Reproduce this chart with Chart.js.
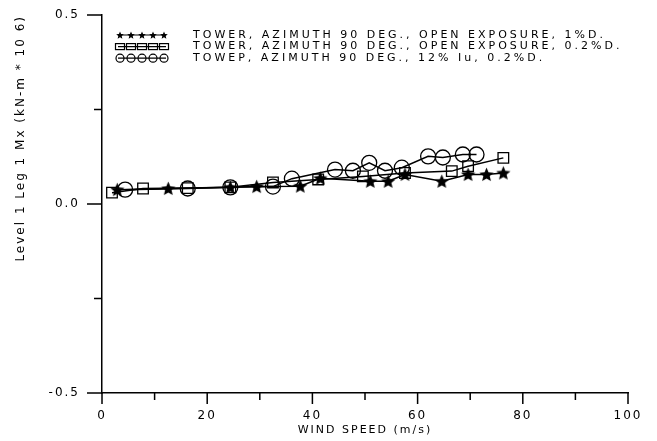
<!DOCTYPE html>
<html>
<head>
<meta charset="utf-8">
<script src="https://cdn.jsdelivr.net/npm/chart.js@4"></script>
<style>
  html, body { margin: 0; padding: 0; background: #fff; }
  canvas { display: block; }
</style>
</head>
<body>
<canvas id="myChart" width="657" height="441"></canvas>
<script>
// Values: wind speed (m/s) vs Mx
let seriesLabels = [
  "TOWER, AZIMUTH 90 DEG., OPEN EXPOSURE, 1%D.",
  "TOWER, AZIMUTH 90 DEG., OPEN EXPOSURE, 0.2%D.",
  "TOWEP, AZIMUTH 90 DEG., 12% Iu, 0.2%D."
];
let starX = [2.9, 12.6, 24.4, 29.4, 37.7, 41.5, 51.0, 54.4, 57.6, 64.6, 69.6, 73.1, 76.3];
let starY = [0.038, 0.041, 0.044, 0.046, 0.047, 0.068, 0.060, 0.060, 0.078, 0.060, 0.078, 0.078, 0.082];
let squareX = [1.9, 7.8, 16.3, 24.4, 32.5, 41.1, 49.6, 57.6, 66.5, 69.6, 76.3];
let squareY = [0.030, 0.041, 0.042, 0.044, 0.057, 0.065, 0.073, 0.082, 0.087, 0.100, 0.122];
let circleX = [4.4, 16.3, 24.4, 32.5, 36.1, 44.3, 47.7, 50.8, 53.8, 57.0, 62.0, 64.8, 68.6, 71.2];
let circleY = [0.038, 0.041, 0.044, 0.046, 0.067, 0.091, 0.088, 0.109, 0.088, 0.096, 0.126, 0.123, 0.131, 0.131];
let xTickLabels = [0, 20, 40, 60, 80, 100];
let yTickLabels = [-0.5, 0, 0.5];

function toPoints(xs, ys) {
  return xs.map((x, i) => ({ x: x, y: ys[i] }));
}

// filled five point star, used as marker
function makeStar(r) {
  let c = document.createElement("canvas");
  c.width = c.height = Math.ceil(r * 2 + 2);
  let g = c.getContext("2d");
  let cx = c.width / 2, cy = c.height / 2 + 0.5;
  g.beginPath();
  for (let i = 0; i < 10; i++) {
    let rad = i % 2 ? r * 0.45 : r;
    let a = -Math.PI / 2 + i * Math.PI / 5;
    g.lineTo(cx + rad * Math.cos(a), cy + rad * Math.sin(a));
  }
  g.closePath();
  g.fillStyle = "#000";
  g.fill();
  return c;
}
let bigStar = makeStar(7.5);
let smallStar = makeStar(4);

Chart.defaults.font.family = "'DejaVu Sans', sans-serif";
Chart.defaults.color = "#000";

// plotter-like wide text
const spacing = {
  id: "spacing",
  beforeUpdate(chart) { chart.ctx.letterSpacing = "2px"; },
  beforeDraw(chart) { chart.ctx.letterSpacing = "2px"; }
};

// major and minor tick marks
const tickMarks = {
  id: "tickMarks",
  afterDraw(chart) {
    let ctx = chart.ctx;
    let xs = chart.scales.x, ys = chart.scales.y;
    ctx.save();
    ctx.strokeStyle = "#000";
    ctx.lineWidth = 1.5;
    ctx.beginPath();
    xs.ticks.forEach(t => {
      let px = xs.getPixelForValue(t.value);
      let len = xTickLabels.includes(t.value) ? 11 : 7;
      ctx.moveTo(px, xs.top);
      ctx.lineTo(px, xs.top + len);
    });
    ys.ticks.forEach(t => {
      let py = ys.getPixelForValue(t.value);
      let len = yTickLabels.includes(t.value) ? 15 : 8;
      ctx.moveTo(ys.right, py);
      ctx.lineTo(ys.right - len, py);
    });
    ctx.stroke();
    ctx.restore();
  }
};

// legend: a row of five markers then the label
const markerLegend = {
  id: "markerLegend",
  afterDraw(chart) {
    let ctx = chart.ctx;
    ctx.save();
    ctx.font = "11px 'DejaVu Sans'";
    ctx.letterSpacing = "3px";
    ctx.textBaseline = "middle";
    ctx.fillStyle = "#000";
    ctx.strokeStyle = "#000";
    chart.data.datasets.forEach((ds, i) => {
      let y = 35 + i * 11.6;
      ctx.lineWidth = 1.2;
      ctx.beginPath();
      ctx.moveTo(118, y);
      ctx.lineTo(166, y);
      ctx.stroke();
      for (let k = 0; k < 5; k++) {
        let x = 120 + k * 11;
        if (i == 0) {
          ctx.drawImage(smallStar, x - smallStar.width / 2, y - smallStar.height / 2);
        } else if (i == 1) {
          ctx.strokeRect(x - 4.5, y - 3, 9, 6);
        } else {
          ctx.beginPath();
          ctx.arc(x, y, 4, 0, Math.PI * 2);
          ctx.stroke();
        }
      }
      ctx.fillText(ds.label, 193, y);
    });
    ctx.restore();
  }
};

let axisBorder = { display: true, color: "#000", width: 1.5 };

new Chart("myChart", {
  type: "line",
  data: {
    datasets: [
      {
        label: seriesLabels[0],
        data: toPoints(starX, starY),
        borderColor: "#000",
        borderWidth: 1.5,
        pointStyle: bigStar,
        fill: false
      },
      {
        label: seriesLabels[1],
        data: toPoints(squareX, squareY),
        borderColor: "#000",
        borderWidth: 1.5,
        pointStyle: "rect",
        pointRadius: 7.5,
        pointBorderWidth: 1.3,
        pointBackgroundColor: "rgba(0,0,0,0)",
        fill: false
      },
      {
        label: seriesLabels[2],
        data: toPoints(circleX, circleY),
        borderColor: "#000",
        borderWidth: 1.5,
        pointStyle: "circle",
        pointRadius: 7.5,
        pointBorderWidth: 1.3,
        pointBackgroundColor: "rgba(0,0,0,0)",
        fill: false
      }
    ]
  },
  options: {
    responsive: false,
    animation: false,
    devicePixelRatio: 1,
    layout: { padding: { left: 0, right: 29, top: 15, bottom: 0 } },
    plugins: { legend: { display: false }, tooltip: { enabled: false } },
    scales: {
      x: {
        type: "linear",
        min: 0,
        max: 100,
        grid: { display: false },
        border: axisBorder,
        ticks: {
          stepSize: 10,
          padding: 8,
          autoSkip: false,
          maxRotation: 0,
          font: { size: 12 },
          callback: v => xTickLabels.includes(v) ? String(v) : ""
        },
        title: {
          display: true,
          text: "WIND SPEED (m/s)",
          font: { size: 11 },
          padding: { top: 0, bottom: 4 }
        },
        afterFit: s => { s.height = 48; }
      },
      y: {
        min: -0.5,
        max: 0.5,
        // tick marks are drawn by the plugin, this only makes room for the labels
        grid: { display: true, drawOnChartArea: false, tickLength: 20, color: "rgba(0,0,0,0)" },
        border: axisBorder,
        ticks: {
          stepSize: 0.25,
          padding: 2,
          autoSkip: false,
          font: { size: 12 },
          callback: v => yTickLabels.includes(v) ? v.toFixed(1) : ""
        },
        title: {
          display: true,
          text: "Level 1 Leg 1 Mx (kN-m * 10 6)",
          align: "end",
          font: { size: 12 },
          padding: { top: 14, bottom: 0 }
        },
        afterFit: s => { s.width = 102; }
      }
    }
  },
  plugins: [spacing, tickMarks, markerLegend]
});
</script>
</body>
</html>
